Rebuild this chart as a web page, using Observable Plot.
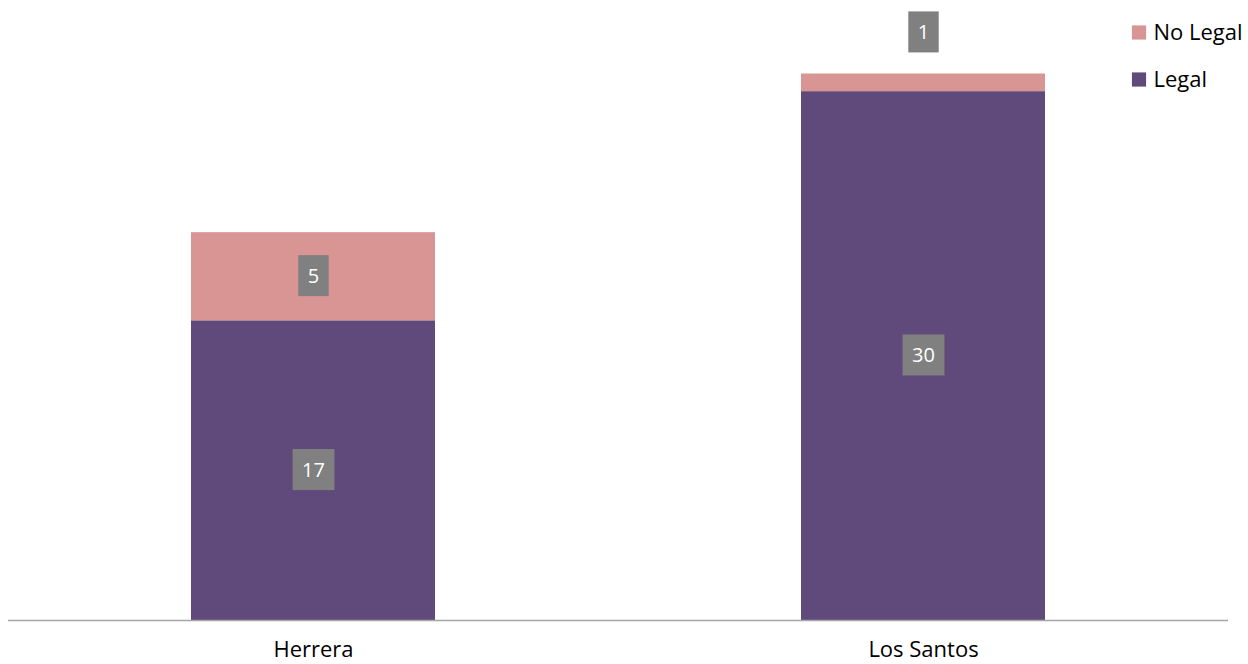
<!DOCTYPE html>
<html>
<head>
<meta charset="utf-8">
<script src="https://cdn.jsdelivr.net/npm/d3@7"></script>
<script src="https://cdn.jsdelivr.net/npm/@observablehq/plot@0.6"></script>
<style>
  html, body { margin: 0; padding: 0; background: #fff; }
  #chart svg { display: block; }
</style>
</head>
<body>
<div id="chart"></div>
<script>
const categories = ["Herrera", "Los Santos"];
const seriesNames = ["Legal", "No Legal"];
const legalValues = [17, 30];
const noLegalValues = [5, 1];
const seriesColors = ["#604A7B", "#D99594"];

const valuesBySeries = [legalValues, noLegalValues];
const data = [];
categories.forEach((c, i) => {
  let base = 0;
  seriesNames.forEach((s, j) => {
    const v = valuesBySeries[j][i];
    data.push({category: c, series: s, value: v, y1: base, y2: base + v, mid: base + v / 2});
    base += v;
  });
});
const inside = data.filter(d => d.value >= 2.5);
const outside = data.filter(d => d.value < 2.5);

const font = "'Open Sans', 'DejaVu Sans', sans-serif";

const chart = Plot.plot({
  width: 1248,
  height: 664,
  marginTop: 3,
  marginBottom: 44,
  marginLeft: 8,
  marginRight: 20,
  style: {fontFamily: font, fontSize: "20px", color: "#000", background: "#fff"},
  x: {domain: categories, paddingInner: 0.6, paddingOuter: 0.3, label: null},
  y: {domain: [0, 35], axis: null},
  color: {domain: seriesNames, range: seriesColors},
  marks: [
    Plot.rectY(data, {x: "category", y1: "y1", y2: "y2", fill: "series"}),
    Plot.ruleY([0], {stroke: "#A6A6A6", strokeWidth: 1.5}),
    Plot.axisX({tickSize: 0, tickPadding: 21, fontSize: 22, fill: "#000"}),
    Plot.text(inside, {x: "category", y: "mid", text: d => String(d.value), fill: "white", fontSize: 20, className: "lbl"}),
    Plot.text(outside, {x: "category", y: "y2", text: d => String(d.value), fill: "white", fontSize: 20, dy: -41, className: "lbl"}),
    // legend
    Plot.dot([seriesNames[1]], {frameAnchor: "top-right", dx: -89.5, dy: 29, symbol: "square", r: 8, fill: d => d}),
    Plot.text([seriesNames[1]], {frameAnchor: "top-right", dx: -75, dy: 29, text: d => d, textAnchor: "start", lineAnchor: "middle", fontSize: 22, fill: "#000"}),
    Plot.dot([seriesNames[0]], {frameAnchor: "top-right", dx: -89.5, dy: 76, symbol: "square", r: 8, fill: d => d}),
    Plot.text([seriesNames[0]], {frameAnchor: "top-right", dx: -75, dy: 76, text: d => d, textAnchor: "start", lineAnchor: "middle", fontSize: 22, fill: "#000"})
  ]
});
document.getElementById("chart").appendChild(chart);

// gray boxes behind data labels
chart.querySelectorAll("g.lbl text").forEach(t => {
  const b = t.getBBox();
  const padX = 9.5, h = 41;
  const cy = b.y + b.height / 2;
  const r = document.createElementNS("http://www.w3.org/2000/svg", "rect");
  r.setAttribute("x", b.x - padX);
  r.setAttribute("y", cy - h / 2);
  r.setAttribute("width", b.width + 2 * padX);
  r.setAttribute("height", h);
  r.setAttribute("fill", "#808080");
  const tr = t.getAttribute("transform");
  if (tr) r.setAttribute("transform", tr);
  t.parentNode.insertBefore(r, t);
});
</script>
</body>
</html>
